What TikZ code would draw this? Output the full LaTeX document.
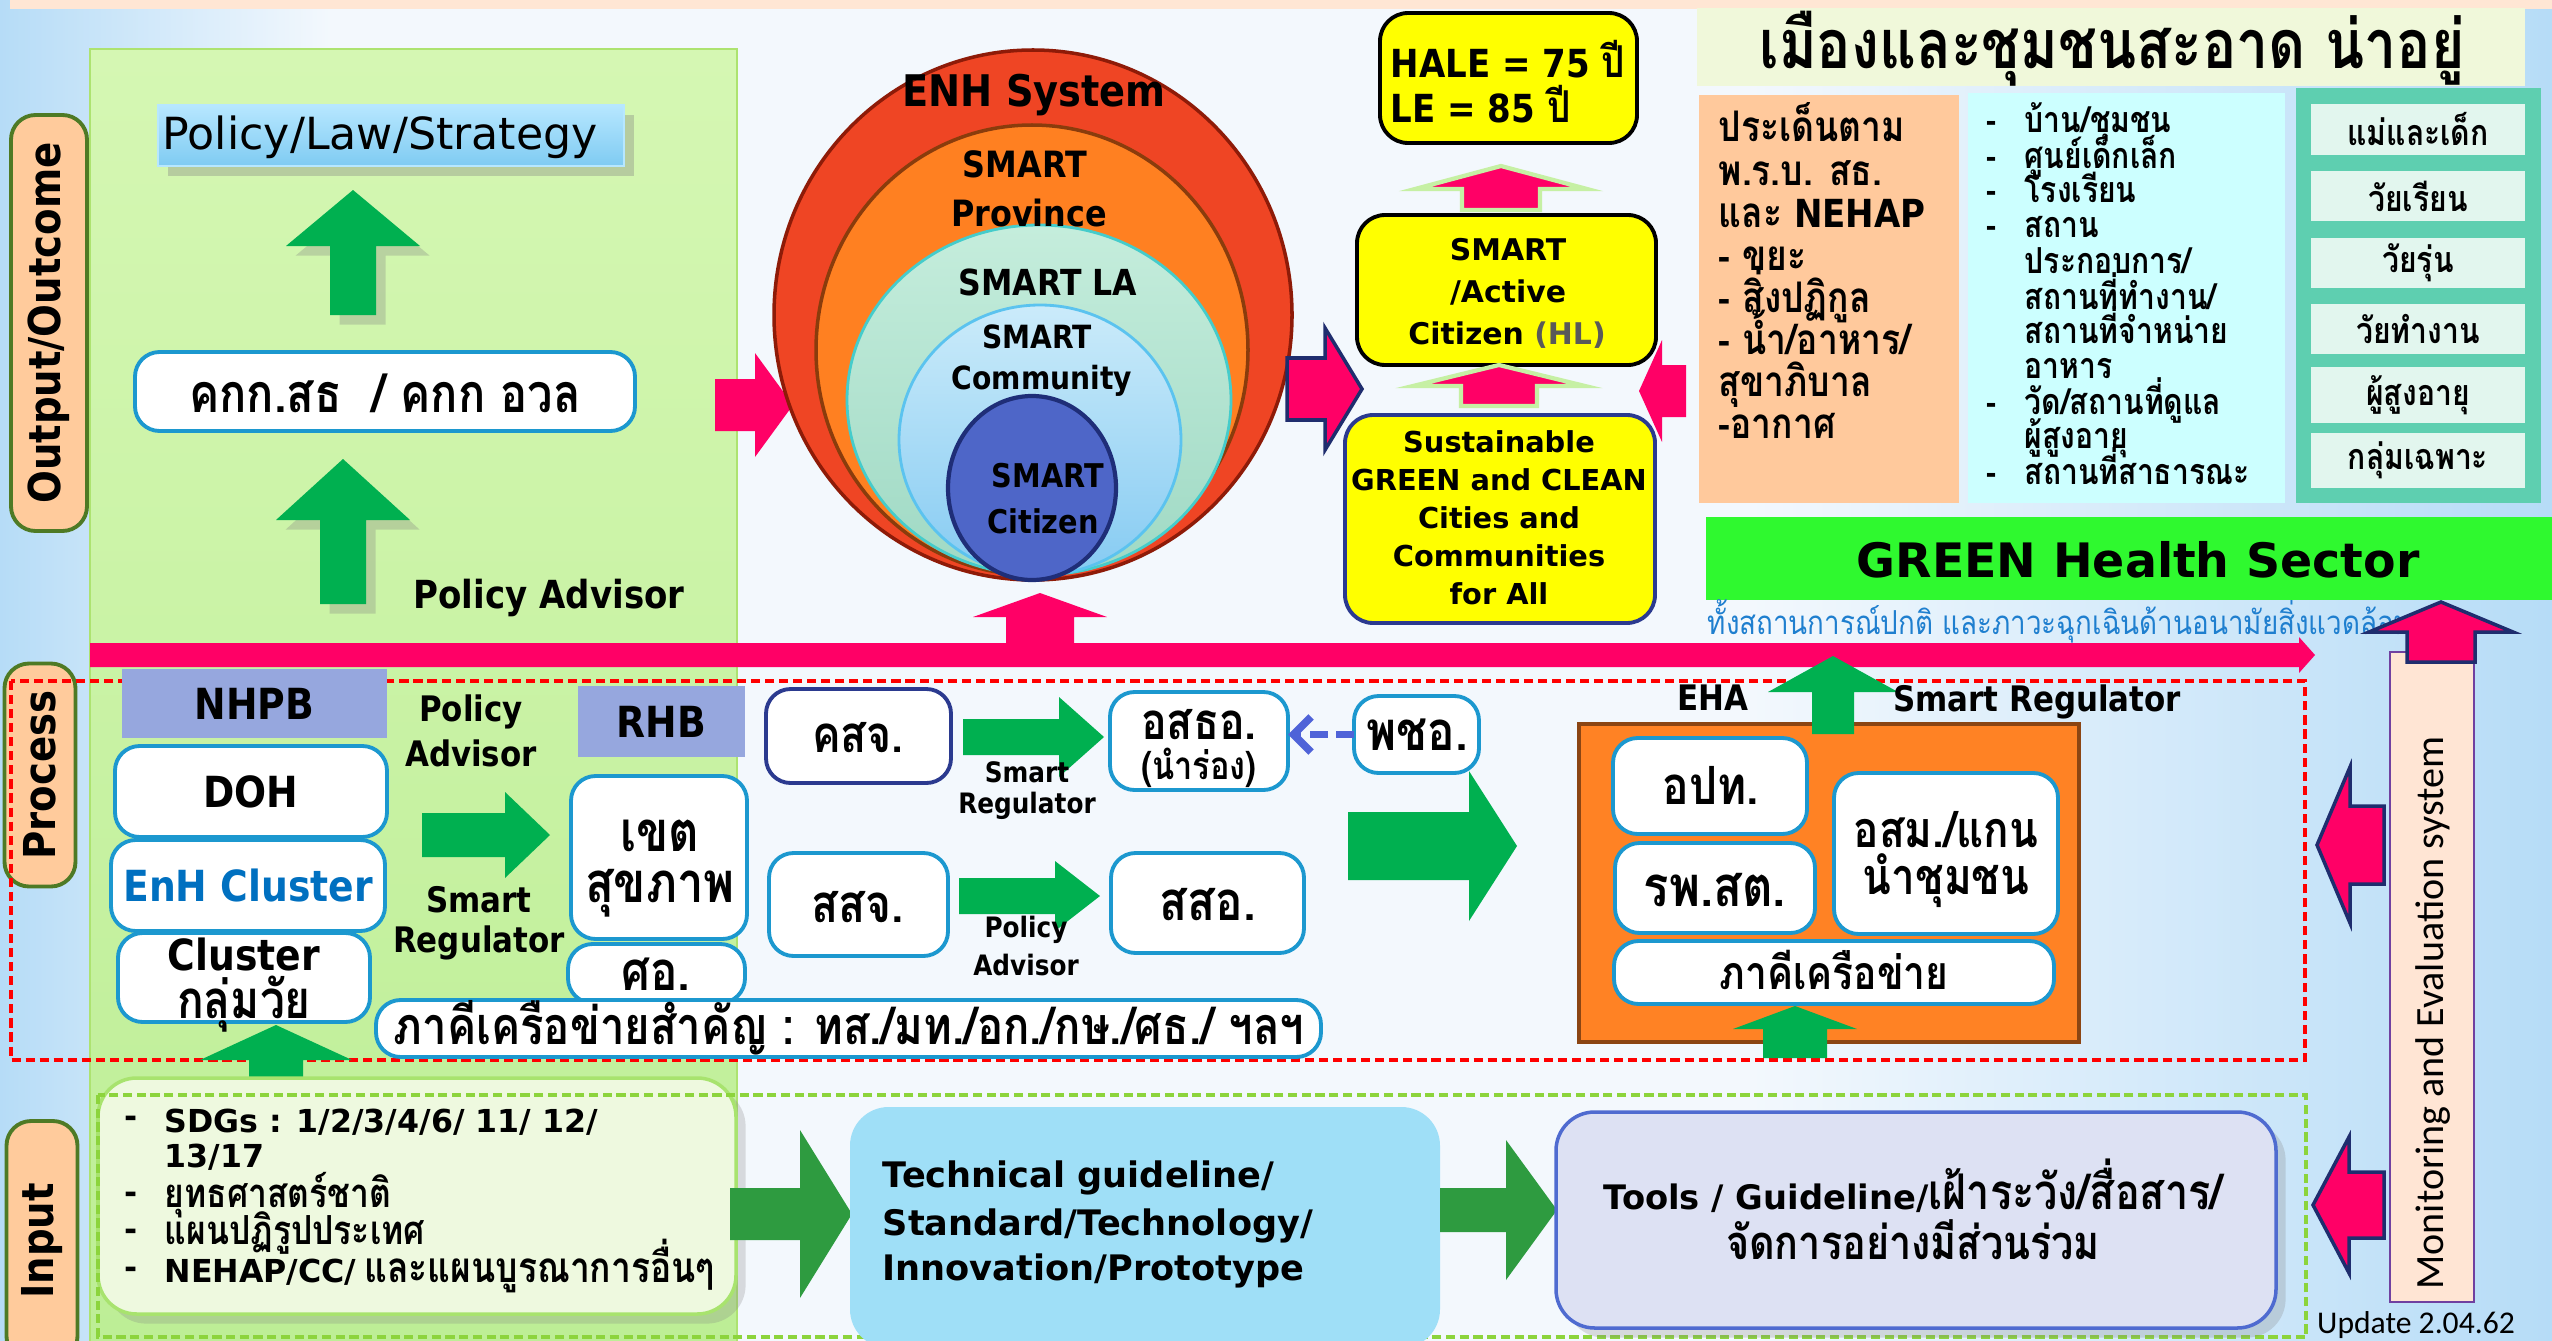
\documentclass[tikz,border=0pt]{standalone}
\usepackage{fontspec}
\setmainfont{DejaVu Sans}
\newfontfamily\dvs{DejaVu Sans}
\newfontfamily\tbs[FakeStretch=0.88]{DejaVu Sans}
\newfontfamily\thaif[Script=Thai,FakeStretch=0.84]{Loma}
\newfontfamily\carl{Carlito}
\usetikzlibrary{arrows.meta,shadows}
\newcommand\fs[1]{\fontsize{#1}{#1}\selectfont}
\newcommand\THB{\thaif\bfseries}
\definecolor{bgb}{HTML}{B6DCF7}
\definecolor{bgw}{HTML}{F3F8FD}
\definecolor{peachtop}{HTML}{FFE6D4}
\definecolor{pg1}{HTML}{D5F7B3}
\definecolor{pg2}{HTML}{BDEE96}
\definecolor{pgedge}{HTML}{ADE370}
\definecolor{lab}{HTML}{FFCB9C}
\definecolor{labedge}{HTML}{4E7A25}
\definecolor{pol1}{HTML}{B7E7FF}
\definecolor{pol2}{HTML}{7FCBF2}
\definecolor{boxblue}{HTML}{1C98CF}
\definecolor{pinkc}{HTML}{FF0066}
\definecolor{navy}{HTML}{1F2D6E}
\definecolor{garr}{HTML}{00B050}
\definecolor{garr2}{HTML}{2E9B40}
\definecolor{ered}{HTML}{EF4524}
\definecolor{eredb}{HTML}{8E1B08}
\definecolor{eora}{HTML}{FF8021}
\definecolor{eorab}{HTML}{8A3C0C}
\definecolor{emint1}{HTML}{C5EDDC}
\definecolor{emint2}{HTML}{9FD9C4}
\definecolor{emintb}{HTML}{45CCCB}
\definecolor{elb1}{HTML}{CBEBFA}
\definecolor{elb2}{HTML}{86CBF2}
\definecolor{elbb}{HTML}{5BC3EF}
\definecolor{edb}{HTML}{4E66C8}
\definecolor{edbb}{HTML}{1F2E78}
\definecolor{yel}{HTML}{FFFF00}
\definecolor{hlgray}{HTML}{595959}
\definecolor{arrowrim}{HTML}{C6F0A4}
\definecolor{banner}{HTML}{F0F8DA}
\definecolor{obox}{HTML}{FFC99C}
\definecolor{cbox}{HTML}{CCFFFF}
\definecolor{tealc}{HTML}{5ECFB0}
\definecolor{tealin}{HTML}{E2F6EE}
\definecolor{gsect}{HTML}{2FF92F}
\definecolor{subblue}{HTML}{1F7FCF}
\definecolor{lav}{HTML}{96A7DE}
\definecolor{enhc}{HTML}{0070C0}
\definecolor{ehaor}{HTML}{FF8224}
\definecolor{ehab}{HTML}{8B4513}
\definecolor{cnavy}{HTML}{2B3A8F}
\definecolor{dblue}{HTML}{4F63D8}
\definecolor{reddash}{HTML}{FF0000}
\definecolor{grdash}{HTML}{8CD43C}
\definecolor{sdgc}{HTML}{EEF9DF}
\definecolor{sdgb}{HTML}{A8E36E}
\definecolor{techc}{HTML}{9FDFF7}
\definecolor{toolsc}{HTML}{DDE1F3}
\definecolor{toolsb}{HTML}{4F6BD0}
\definecolor{monc}{HTML}{FFE5D4}
\definecolor{monb}{HTML}{7040A0}
% box from (x1,y1) to (x2,y2) in pixel units
\newcommand\bx[7]{\node[#2,inner sep=0pt,outer sep=0pt,minimum width={(#5-#3)*0.1mm},minimum height={(#6-#4)*0.1mm}] (#1) at ({(#3+#5)/2},{(#4+#6)/2}) {#7};}
% horizontal block arrow: style, tipx, cy, headhalf, headbasex, shafthalf, endx
\newcommand\HArrow[7]{\fill[#1] (#7,{#3-#6}) -- (#5,{#3-#6}) -- (#5,{#3-#4}) -- (#2,#3) -- (#5,{#3+#4}) -- (#5,{#3+#6}) -- (#7,{#3+#6}) -- cycle;}
% vertical block arrow: style, cx, tipy, headhalf, headbasey, shafthalf, endy
\newcommand\VArrow[7]{\fill[#1] ({#2-#6},#7) -- ({#2-#6},#5) -- ({#2-#4},#5) -- (#2,#3) -- ({#2+#4},#5) -- ({#2+#6},#5) -- ({#2+#6},#7) -- cycle;}
\begin{document}
\begin{tikzpicture}[x=0.1mm,y=-0.1mm,
  wbox/.style={draw=boxblue,line width=1.1pt,fill=white,rounded corners=7pt},
  sidelab/.style={draw=labedge,line width=1.1pt,fill=lab,rounded corners=7pt,font=\tbs\bfseries\fs{12.5},rotate=90,inner sep=0pt},
  ybox/.style={fill=yel,rounded corners=8pt,line width=1.1pt},
  tb/.style={font=\tbs\bfseries\fs{#1}},
  vb/.style={font=\dvs\bfseries\fs{#1}},
  th/.style={font=\THB\fs{#1}},
  pinkf/.style={fill=pinkc},
  pinkb/.style={fill=pinkc,draw=navy,line width=1pt},
  garrow/.style={fill=garr},
  tealbox/.style={fill=tealin,font=\THB\fs{10.2}}]
\useasboundingbox (0,0) rectangle (2552,1341);
% background
\fill[bgw] (0,0) rectangle (2552,1341);
\shade[left color=bgb,right color=bgw] (0,0) rectangle (330,1341);
\shade[left color=bgw,right color=bgb] (1750,0) rectangle (2552,1341);
\fill[peachtop] (10,0) rectangle (2552,9);
% green panel
\shade[top color=pg1,bottom color=pg2] (90,49) rectangle (737,1341);
\draw[pgedge,line width=0.8pt] (90,1341) -- (90,49) -- (737,49) -- (737,1341);
% side labels
\node[sidelab,minimum width=41.6mm,minimum height=7.6mm] (lout) at (49,323) {Output/Outcome};
\node[sidelab,minimum width=22.3mm,minimum height=7.1mm] (lproc) at (40,775) {Process};
\node[sidelab,minimum width=24mm,minimum height=7.1mm] (linp) at (42,1241) {Input};
% output column
\bx{polbox}{top color=pol1,bottom color=pol2,draw=pol1,line width=0.4pt,drop shadow={opacity=0.35}}{158}{105}{624}{166}{}
\node[font=\dvs\fs{12.6},anchor=west,inner sep=0pt] (poltxt) at (162,137) {Policy/Law/Strategy};
\VArrow{garrow,drop shadow={opacity=0.3}}{353}{190}{67}{246}{23}{315}
\bx{kkk}{wbox}{135}{352}{635}{431}{}
\node[th=15.3,anchor=base] (kkkt) at (385,412) {คกก.สธ\ \ / คกก อวล};
\VArrow{garrow,drop shadow={opacity=0.3}}{343}{459}{67}{520}{23}{604}
\node[tb=11] (padv) at (549,598) {Policy Advisor};
\HArrow{pinkf}{793}{405}{52}{755}{26}{715}
% ENH circles
\draw[fill=ered,draw=eredb,line width=1pt] (1033,315) ellipse [x radius=259,y radius=265];
\draw[fill=eora,draw=eorab,line width=1pt] (1032,350) ellipse [x radius=216,y radius=225];
\shade[top color=emint1,bottom color=emint2,draw=emintb,line width=0.8pt] (1039,400) ellipse [x radius=192,y radius=175];
\shade[top color=elb1,bottom color=elb2,draw=elbb,line width=0.8pt] (1040,440) ellipse [x radius=141,y radius=135];
\draw[fill=edb,draw=edbb,line width=1.2pt] (1032,488) ellipse [x radius=84,y radius=92];
\node[tb=12.4] (enh) at (1034,95) {ENH System};
\node[tb=10.3] (sp1) at (1025,164) {SMART};
\node[tb=10.3] (sp2) at (1029,213) {Province};
\node[tb=10.2] (sla) at (1048,282) {SMART LA};
\node[tb=9.1] (sco1) at (1037,337) {SMART};
\node[tb=9.1] (sco2) at (1042,381) {Community};
\node[tb=9.3] (sci1) at (1048,476) {SMART};
\node[tb=9.3] (sci2) at (1043,521) {Citizen};
\VArrow{pinkf}{1040}{593}{67}{617}{34}{643}
% yellow column
\bx{hale}{ybox,draw=black}{1380}{13}{1637}{143}{}
\node[tb=11,anchor=west,inner sep=0pt] (hale1) at (1390,59) {HALE = 75 {\THB\fs{12.5}ปี}};
\node[tb=11,anchor=west,inner sep=0pt] (hale2) at (1390,104) {LE = 85 {\THB\fs{12.5}ปี}};
\VArrow{pinkf,draw=arrowrim,line width=1.2pt}{1501}{166}{86}{189}{39}{210}
\bx{smartc}{ybox,draw=black}{1357}{215}{1656}{365}{}
\node[vb=8.5] (sm1) at (1508,250) {SMART};
\node[vb=8.5] (sm2) at (1508,293) {/Active};
\node[vb=8.5] (sm3) at (1507,335) {Citizen \textcolor{hlgray}{(HL)}};
\VArrow{pinkf,draw=arrowrim,line width=1.2pt}{1499}{365}{86}{386}{38}{406}
\bx{sgc}{ybox,draw=cnavy}{1345}{415}{1655}{623}{}
\node[font=\dvs\bfseries\fontsize{8.2}{10.8}\selectfont,align=center] (sgct) at (1499,518) {Sustainable\\GREEN and CLEAN\\Cities and\\Communities\\for All};
\HArrow{pinkb}{1362}{389}{61}{1325}{31}{1287}
\HArrow{pinkf}{1639}{391}{51}{1662}{26}{1686}
% right top
\bx{ban}{fill=banner}{1697}{8}{2525}{86}{}
\node[th=19.4,anchor=base] (title) at (2112,68) {เมืองและชุมชนสะอาด น่าอยู่};
\bx{obx}{fill=obox}{1699}{95}{1959}{503}{}
\node[th=12,anchor=base west,inner sep=0pt] (o1) at (1718,141) {ประเด็นตาม};
\node[th=12,anchor=base west,inner sep=0pt] (o2) at (1718,185) {พ.ร.บ. สธ.};
\node[th=12,anchor=base west,inner sep=0pt] (o3) at (1718,227) {และ{\tbs\bfseries\fs{11}\ NEHAP}};
\node[th=12,anchor=base west,inner sep=0pt] (o4) at (1718,270) {- ขยะ};
\node[th=12,anchor=base west,inner sep=0pt] (o5) at (1718,312) {- สิ่งปฏิกูล};
\node[th=12,anchor=base west,inner sep=0pt] (o6) at (1718,354) {- น้ำ/อาหาร/};
\node[th=12,anchor=base west,inner sep=0pt] (o7) at (1718,396) {สุขาภิบาล};
\node[th=12,anchor=base west,inner sep=0pt] (o8) at (1718,438) {-อากาศ};
\bx{cbx}{fill=cbox}{1968}{93}{2285}{503}{}
\node[th=10.2,anchor=base] (cd1) at (1991,132) {-};
\node[th=10.2,anchor=base] (cd2) at (1991,168) {-};
\node[th=10.2,anchor=base] (cd3) at (1991,202) {-};
\node[th=10.2,anchor=base] (cd4) at (1991,237) {-};
\node[th=10.2,anchor=base] (cd9) at (1991,414) {-};
\node[th=10.2,anchor=base] (cd11) at (1991,484) {-};
\node[th=10.2,anchor=base west,inner sep=0pt] (c1) at (2024,132) {บ้าน/ชุมชน};
\node[th=10.2,anchor=base west,inner sep=0pt] (c2) at (2024,168) {ศูนย์เด็กเล็ก};
\node[th=10.2,anchor=base west,inner sep=0pt] (c3) at (2024,202) {โรงเรียน};
\node[th=10.2,anchor=base west,inner sep=0pt] (c4) at (2024,237) {สถาน};
\node[th=10.2,anchor=base west,inner sep=0pt] (c5) at (2024,273) {ประกอบการ/};
\node[th=10.2,anchor=base west,inner sep=0pt] (c6) at (2024,309) {สถานที่ทำงาน/};
\node[th=10.2,anchor=base west,inner sep=0pt] (c7) at (2024,343) {สถานที่จำหน่าย};
\node[th=10.2,anchor=base west,inner sep=0pt] (c8) at (2024,378) {อาหาร};
\node[th=10.2,anchor=base west,inner sep=0pt] (c9) at (2024,414) {วัด/สถานที่ดูแล};
\node[th=10.2,anchor=base west,inner sep=0pt] (c10) at (2024,448) {ผู้สูงอายุ};
\node[th=10.2,anchor=base west,inner sep=0pt] (c11) at (2024,484) {สถานที่สาธารณะ};
\bx{tbx}{fill=tealc}{2296}{88}{2541}{503}{}
\bx{tl1}{tealbox}{2311}{104}{2525}{155}{แม่และเด็ก}
\bx{tl2}{tealbox}{2311}{171}{2525}{221}{วัยเรียน}
\bx{tl3}{tealbox}{2311}{238}{2525}{288}{วัยรุ่น}
\bx{tl4}{tealbox}{2311}{304}{2525}{354}{วัยทำงาน}
\bx{tl5}{tealbox}{2311}{367}{2525}{423}{ผู้สูงอายุ}
\bx{tl6}{tealbox}{2311}{433}{2525}{488}{กลุ่มเฉพาะ}
\bx{gsec}{fill=gsect}{1706}{517}{2560}{600}{}
\node[vb=13.5] (gstxt) at (2138,560) {GREEN Health Sector};
\node[font=\thaif\fs{9.4},text=subblue,anchor=west,inner sep=0pt] (sub) at (1707,621) {ทั้งสถานการณ์ปกติ และภาวะฉุกเฉินด้านอนามัยสิ่งแวดล้อม};
% pink process bar
\fill[pinkc] (90,643) -- (2299,643) -- (2299,637) -- (2315,655) -- (2299,673) -- (2299,667) -- (90,667) -- cycle;
% process frame
\draw[reddash,line width=1pt,dash pattern=on 2.6pt off 1.4pt] (11,681) rectangle (2305,1060);
% national level
\bx{nhpb}{fill=lav,tb=12.2}{122}{669}{387}{738}{NHPB}
\bx{doh}{wbox,tb=12.2}{115}{746}{387}{837}{DOH}
\bx{enhcl}{wbox,tb=12.2,text=enhc}{111}{840}{385}{931}{EnH Cluster}
\bx{clu}{wbox}{118}{933}{370}{1022}{}
\node[tb=12.2] (clu1) at (244,955) {Cluster};
\node[th=15,anchor=base] (clu2) at (244,1018) {กลุ่มวัย};
\VArrow{garrow}{276}{1025}{76}{1060}{27}{1092}
\node[tb=10] (pa1) at (471,712) {Policy};
\node[tb=10] (pa2) at (471,753) {Advisor};
\HArrow{garrow}{550}{835}{43}{505}{22}{422}
\node[tb=10] (sr1) at (479,900) {Smart};
\node[tb=10] (sr2) at (479,943) {Regulator};
% regional level
\bx{rhb}{fill=lav,tb=12.2}{578}{686}{745}{757}{RHB}
\bx{khet}{wbox}{571}{776}{747}{939}{}
\node[th=16,anchor=base] (khet1) at (660,851) {เขต};
\node[th=16,anchor=base] (khet2) at (660,902) {สุขภาพ};
\bx{sor}{wbox}{568}{944}{745}{1003}{}
\node[th=15.5,anchor=base] (sort) at (656,990) {ศอ.};
\bx{pakee}{wbox}{376}{1000}{1321}{1057}{}
\node[th=14.8,anchor=base] (pakeet) at (849,1044) {ภาคีเครือข่ายสำคัญ : ทส./มท./อก./กษ./ศธ./ ฯลฯ};
% provincial / district level
\bx{ksj}{wbox,draw=cnavy}{766}{689}{951}{783}{}
\node[th=14.5,anchor=base] (ksjt) at (858,752) {คสจ.};
\HArrow{garrow}{1104}{737}{40}{1059}{18}{963}
\node[tb=8] (msr1) at (1027,772) {Smart};
\node[tb=8] (msr2) at (1027,806) {Regulator};
\bx{osto}{wbox}{1110}{692}{1288}{790}{}
\node[th=14.5,anchor=base] (osto1) at (1199,739) {อสธอ.};
\node[th=11,anchor=base] (osto2) at (1199,779) {(นำร่อง)};
\bx{pcho}{wbox}{1354}{696}{1479}{773}{}
\node[th=15.5,anchor=base] (pchot) at (1417,750) {พชอ.};
\draw[dblue,line width=2.2pt,dash pattern=on 5pt off 2.5pt,-{Straight Barb[length=5pt,width=10pt]}] (pcho.west) -- (pcho.west -| osto.east);
\bx{ssj}{wbox}{769}{853}{948}{956}{}
\node[th=15,anchor=base] (ssjt) at (858,922) {สสจ.};
\HArrow{garrow}{1100}{896}{35}{1055}{18}{959}
\node[tb=8] (mpa1) at (1026,930) {Policy};
\node[tb=8] (mpa2) at (1026,965) {Advisor};
\bx{sso}{wbox}{1111}{853}{1304}{953}{}
\node[th=15.5,anchor=base] (ssot) at (1208,920) {สสอ.};
\HArrow{garrow}{1517}{846}{75}{1469}{34}{1348}
% local level EHA
\bx{eha}{fill=ehaor,draw=ehab,line width=1.2pt}{1579}{724}{2079}{1042}{}
\bx{opt}{wbox}{1613}{738}{1807}{834}{}
\node[th=15,anchor=base] (optt) at (1711,804) {อปท.};
\bx{rpst}{wbox}{1615}{843}{1815}{933}{}
\node[th=16,anchor=base] (rpstt) at (1715,906) {รพ.สต.};
\bx{osm}{wbox}{1834}{773}{2058}{934}{}
\node[th=14.3,anchor=base] (osm1) at (1946,847) {อสม./แกน};
\node[th=14.3,anchor=base] (osm2) at (1946,894) {นำชุมชน};
\bx{pk2}{wbox}{1614}{941}{2054}{1004}{}
\node[th=13.2,anchor=base] (pk2t) at (1834,989) {ภาคีเครือข่าย};
\VArrow{garrow}{1833}{656}{65}{692}{21}{734}
\VArrow{garrow}{1795}{1006}{62}{1029}{32}{1058}
\node[tb=10] (ehat) at (1713,698) {EHA};
\node[tb=10] (smreg) at (2037,702) {Smart Regulator};
% input
\bx{sdg}{fill=sdgc,draw=sdgb,line width=1pt,rounded corners=11pt,drop shadow={opacity=0.25}}{98}{1078}{736}{1314}{}
\node[vb=9] (dd1) at (131,1122) {-};
\node[vb=9] (dd3) at (131,1198) {-};
\node[vb=9] (dd4) at (131,1235) {-};
\node[vb=9] (dd5) at (131,1273) {-};
\node[vb=9,anchor=west,inner sep=0pt] (sd1) at (164,1122) {SDGs : 1/2/3/4/6/ 11/ 12/};
\node[vb=9,anchor=west,inner sep=0pt] (sd2) at (164,1157) {13/17};
\node[th=11.4,anchor=base west,inner sep=0pt] (sd3) at (164,1207) {ยุทธศาสตร์ชาติ};
\node[th=11.4,anchor=base west,inner sep=0pt] (sd4) at (164,1244) {แผนปฏิรูปประเทศ};
\node[vb=9,anchor=base west,inner sep=0pt] (sd5) at (164,1282) {NEHAP/CC/\hspace{0.25em}{\THB\fs{12}และแผนบูรณาการอื่นๆ}};
\draw[grdash,line width=1.1pt,dash pattern=on 2.6pt off 1.3pt] (98,1095) rectangle (2306,1337);
\HArrow{fill=garr2}{852}{1214}{84}{800}{26}{730}
\bx{tech}{fill=techc,rounded corners=11pt}{850}{1107}{1440}{1348}{}
\node[vb=10,anchor=west,inner sep=0pt] (te1) at (882,1178) {Technical guideline/};
\node[vb=10,anchor=west,inner sep=0pt] (te2) at (882,1226) {Standard/Technology/};
\node[vb=10,anchor=west,inner sep=0pt] (te3) at (882,1271) {Innovation/Prototype};
\HArrow{fill=garr2}{1557}{1210}{70}{1506}{22}{1440}
\bx{tools}{fill=toolsc,draw=toolsb,line width=1pt,rounded corners=11pt,drop shadow={opacity=0.25}}{1556}{1112}{2276}{1328}{}
\node[vb=9.6,anchor=base] (to1) at (1913,1209) {Tools / Guideline/{\THB\fs{14}เฝ้าระวัง/สื่อสาร/}};
\node[th=13.4,anchor=base] (to2) at (1913,1259) {จัดการอย่างมีส่วนร่วม};
% monitoring
\bx{mon}{fill=monc,draw=monb,line width=0.8pt}{2390}{652}{2474}{1302}{}
\node[font=\carl\fs{11.4},rotate=90] (mont) at (2433,1013) {Monitoring and Evaluation system};
\VArrow{pinkb}{2441}{602}{72}{632}{34}{662}
\HArrow{pinkb}{2317}{845}{78}{2350}{39}{2384}
\HArrow{pinkb}{2313}{1205}{68}{2349}{33}{2384}
\node[font=\carl\fs{9}] (upd) at (2416,1325) {Update 2.04.62};
\end{tikzpicture}
\end{document}
